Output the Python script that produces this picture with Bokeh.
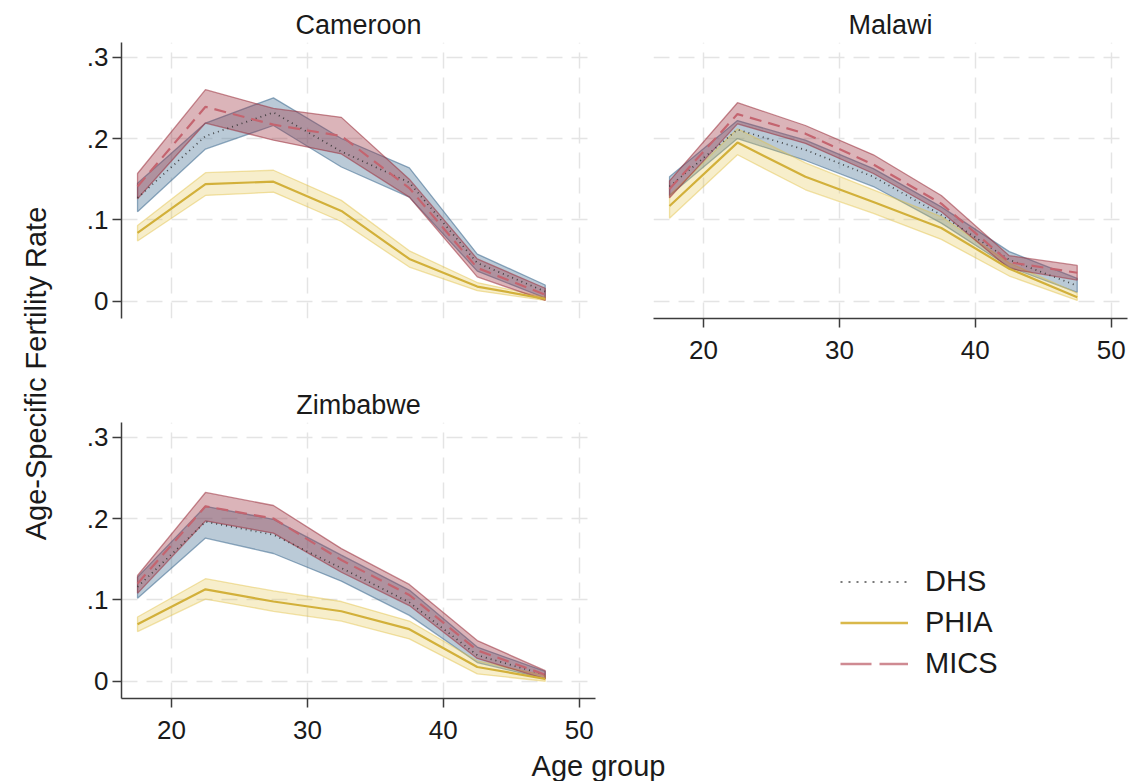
import math
from bokeh.plotting import figure
from bokeh.layouts import row, column
from bokeh.models import Label, Legend, LegendItem, Range1d, FixedTicker
from bokeh.embed import file_html
from bokeh.resources import INLINE

# Age group midpoints (5-year groups 15-19 ... 45-49)
age = [17.5, 22.5, 27.5, 32.5, 37.5, 42.5, 47.5]

# Cameroon
cam_dhs = [0.127, 0.203, 0.232, 0.184, 0.146, 0.047, 0.012]
cam_dhs_lo = [0.110, 0.187, 0.216, 0.165, 0.128, 0.037, 0.004]
cam_dhs_hi = [0.145, 0.219, 0.250, 0.200, 0.164, 0.058, 0.020]
cam_phia = [0.084, 0.144, 0.147, 0.111, 0.052, 0.018, 0.003]
cam_phia_lo = [0.074, 0.130, 0.134, 0.098, 0.042, 0.013, 0.001]
cam_phia_hi = [0.093, 0.158, 0.161, 0.124, 0.062, 0.023, 0.005]
cam_mics = [0.141, 0.239, 0.217, 0.203, 0.139, 0.041, 0.008]
cam_mics_lo = [0.126, 0.219, 0.198, 0.181, 0.128, 0.030, 0.001]
cam_mics_hi = [0.157, 0.260, 0.237, 0.226, 0.150, 0.052, 0.016]

# Malawi
mal_dhs = [0.141, 0.211, 0.186, 0.153, 0.106, 0.051, 0.019]
mal_dhs_lo = [0.130, 0.200, 0.173, 0.141, 0.096, 0.042, 0.011]
mal_dhs_hi = [0.153, 0.222, 0.198, 0.163, 0.116, 0.061, 0.028]
mal_phia = [0.117, 0.195, 0.153, 0.122, 0.090, 0.040, 0.005]
mal_phia_lo = [0.102, 0.180, 0.137, 0.108, 0.076, 0.031, 0.001]
mal_phia_hi = [0.130, 0.212, 0.170, 0.137, 0.104, 0.047, 0.010]
mal_mics = [0.138, 0.230, 0.206, 0.168, 0.120, 0.048, 0.035]
mal_mics_lo = [0.127, 0.218, 0.194, 0.157, 0.110, 0.040, 0.026]
mal_mics_hi = [0.148, 0.244, 0.216, 0.180, 0.130, 0.056, 0.044]

# Zimbabwe
zim_dhs = [0.116, 0.196, 0.180, 0.139, 0.097, 0.032, 0.008]
zim_dhs_lo = [0.102, 0.176, 0.157, 0.123, 0.081, 0.023, 0.003]
zim_dhs_hi = [0.128, 0.215, 0.199, 0.155, 0.112, 0.042, 0.012]
zim_phia = [0.070, 0.113, 0.098, 0.086, 0.064, 0.0175, 0.003]
zim_phia_lo = [0.061, 0.101, 0.086, 0.074, 0.052, 0.009, 0.000]
zim_phia_hi = [0.079, 0.126, 0.111, 0.098, 0.074, 0.025, 0.007]
zim_mics = [0.120, 0.215, 0.200, 0.149, 0.106, 0.038, 0.008]
zim_mics_lo = [0.108, 0.197, 0.182, 0.134, 0.093, 0.028, 0.003]
zim_mics_hi = [0.130, 0.232, 0.216, 0.163, 0.119, 0.050, 0.013]

x_ticks = [20, 30, 40, 50]
y_ticks = [0, 0.1, 0.2, 0.3]
y_tick_labels = {0: "0", 0.1: ".1", 0.2: ".2", 0.3: ".3"}
series_names = ["DHS", "PHIA", "MICS"]

FONT = "Liberation Sans"
TXT = "#1a1a1a"
AXIS = "#3c3c3c"
GRID = "#e4e4e4"

DHS_C = "#4a7396"
PHIA_C = "#e3c244"
MICS_C = "#9a2f3c"

X_RANGE = (16.32, 51.2)
Y_RANGE = (-0.0212, 0.318)


def style_axis(ax):
    ax.axis_line_color = AXIS
    ax.axis_line_width = 1.5
    ax.major_tick_line_color = AXIS
    ax.major_tick_line_width = 1.5
    ax.major_tick_out = 9
    ax.major_tick_in = 0
    ax.minor_tick_line_color = None
    ax.major_label_text_font = FONT
    ax.major_label_text_font_size = "26px"
    ax.major_label_text_color = TXT


def panel(title, data, show_x, show_y, width, height, borders):
    left, right, top, bottom = borders
    p = figure(width=width, height=height,
               x_range=Range1d(*X_RANGE), y_range=Range1d(*Y_RANGE),
               x_axis_location="below" if show_x else None,
               y_axis_location="left" if show_y else None,
               output_backend="svg", toolbar_location=None,
               min_border_left=left, min_border_right=right,
               min_border_top=top, min_border_bottom=bottom)
    p.outline_line_color = None
    p.background_fill_color = "white"
    p.border_fill_color = "white"

    p.title.text = title
    p.title.align = "center"
    p.title.text_font = FONT
    p.title.text_font_size = "27px"
    p.title.text_font_style = "normal"
    p.title.text_color = TXT
    p.title.standoff = 5

    for g in (p.xgrid, p.ygrid):
        g.grid_line_color = GRID
        g.grid_line_width = 1.5
        g.grid_line_dash = "16 9"
    p.xgrid.ticker = FixedTicker(ticks=x_ticks)
    p.ygrid.ticker = FixedTicker(ticks=y_ticks)

    if show_x:
        p.xaxis.ticker = FixedTicker(ticks=x_ticks)
        style_axis(p.xaxis[0])
        p.xaxis.major_label_standoff = 13
    if show_y:
        p.yaxis.ticker = FixedTicker(ticks=y_ticks)
        p.yaxis.major_label_overrides = y_tick_labels
        style_axis(p.yaxis[0])
        p.yaxis.major_label_standoff = 4

    (d, dlo, dhi), (ph, plo, phi), (m, mlo, mhi) = data

    # confidence bands
    for lo, hi, col, fa, la in ((dlo, dhi, DHS_C, 0.38, 0.6),
                                (plo, phi, PHIA_C, 0.28, 0.45),
                                (mlo, mhi, MICS_C, 0.36, 0.55)):
        p.patch(age + age[::-1], hi + lo[::-1], fill_color=col, fill_alpha=fa,
                line_color=col, line_alpha=la, line_width=1.3)

    # point estimates
    p.line(age, d, line_color="#2f2f2f", line_width=1.7, line_dash="1 4", line_alpha=0.85)
    p.line(age, ph, line_color="#d2b03a", line_width=2.2)
    p.line(age, m, line_color="#c4646f", line_width=2.2, line_dash="12 7")
    return p


cam = panel("Cameroon",
            [(cam_dhs, cam_dhs_lo, cam_dhs_hi), (cam_phia, cam_phia_lo, cam_phia_hi),
             (cam_mics, cam_mics_lo, cam_mics_hi)],
            False, True, 583, 380, (61, 48, 42, 62))
mal = panel("Malawi",
            [(mal_dhs, mal_dhs_lo, mal_dhs_hi), (mal_phia, mal_phia_lo, mal_phia_hi),
             (mal_mics, mal_mics_lo, mal_mics_hi)],
            True, False, 486, 380, (10, 2, 42, 62))
zim = panel("Zimbabwe",
            [(zim_dhs, zim_dhs_lo, zim_dhs_hi), (zim_phia, zim_phia_lo, zim_phia_hi),
             (zim_mics, zim_mics_lo, zim_mics_hi)],
            True, True, 583, 363, (61, 48, 42, 45))


def blank(width, height):
    f = figure(width=width, height=height, x_range=Range1d(0, 1), y_range=Range1d(0, 1),
               x_axis_location=None, y_axis_location=None,
               output_backend="svg", toolbar_location=None,
               min_border_left=0, min_border_right=0, min_border_top=0, min_border_bottom=0)
    f.outline_line_color = None
    f.xgrid.visible = False
    f.ygrid.visible = False
    return f


# legend panel: key renderers sit outside the visible range, only their legend swatches show
leg = blank(486, 363)
key_x = [2.0, 3.0]
key_y = [2.0, 2.0]
r_dhs = leg.line(key_x, key_y, line_color="#7a7a7a", line_width=1.8, line_dash="2 6")
r_phia = leg.line(key_x, key_y, line_color="#d9b84a", line_width=2.5)
r_mics = leg.line(key_x, key_y, line_color="#cf8a92", line_width=2.5, line_dash="31 8")
legend = Legend(items=[LegendItem(label=series_names[0], renderers=[r_dhs]),
                       LegendItem(label=series_names[1], renderers=[r_phia]),
                       LegendItem(label=series_names[2], renderers=[r_mics])],
                location=(197, 14), orientation="vertical",
                glyph_width=68, glyph_height=41, label_height=41, spacing=0,
                label_standoff=17, padding=0, margin=0,
                border_line_color=None, background_fill_alpha=0,
                label_text_font=FONT, label_text_font_size="29px",
                label_text_color=TXT, label_text_baseline="middle")
leg.add_layout(legend, "center")

# shared axis titles
ylab = blank(60, 781)
ylab.add_layout(Label(x=35, y=408, x_units="screen", y_units="screen",
                      text="Age-Specific Fertility Rate", angle=math.pi / 2,
                      text_align="center", text_baseline="middle",
                      text_font=FONT, text_font_size="29px", text_color=TXT))

xlab = blank(1069, 38)
xlab.add_layout(Label(x=538, y=16, x_units="screen", y_units="screen",
                      text="Age group", text_align="center", text_baseline="middle",
                      text_font=FONT, text_font_size="29px", text_color=TXT))

layout = row(ylab, column(row(cam, mal), row(zim, leg), xlab))

with open("out.html", "w") as fh:
    fh.write(file_html(layout, INLINE))
